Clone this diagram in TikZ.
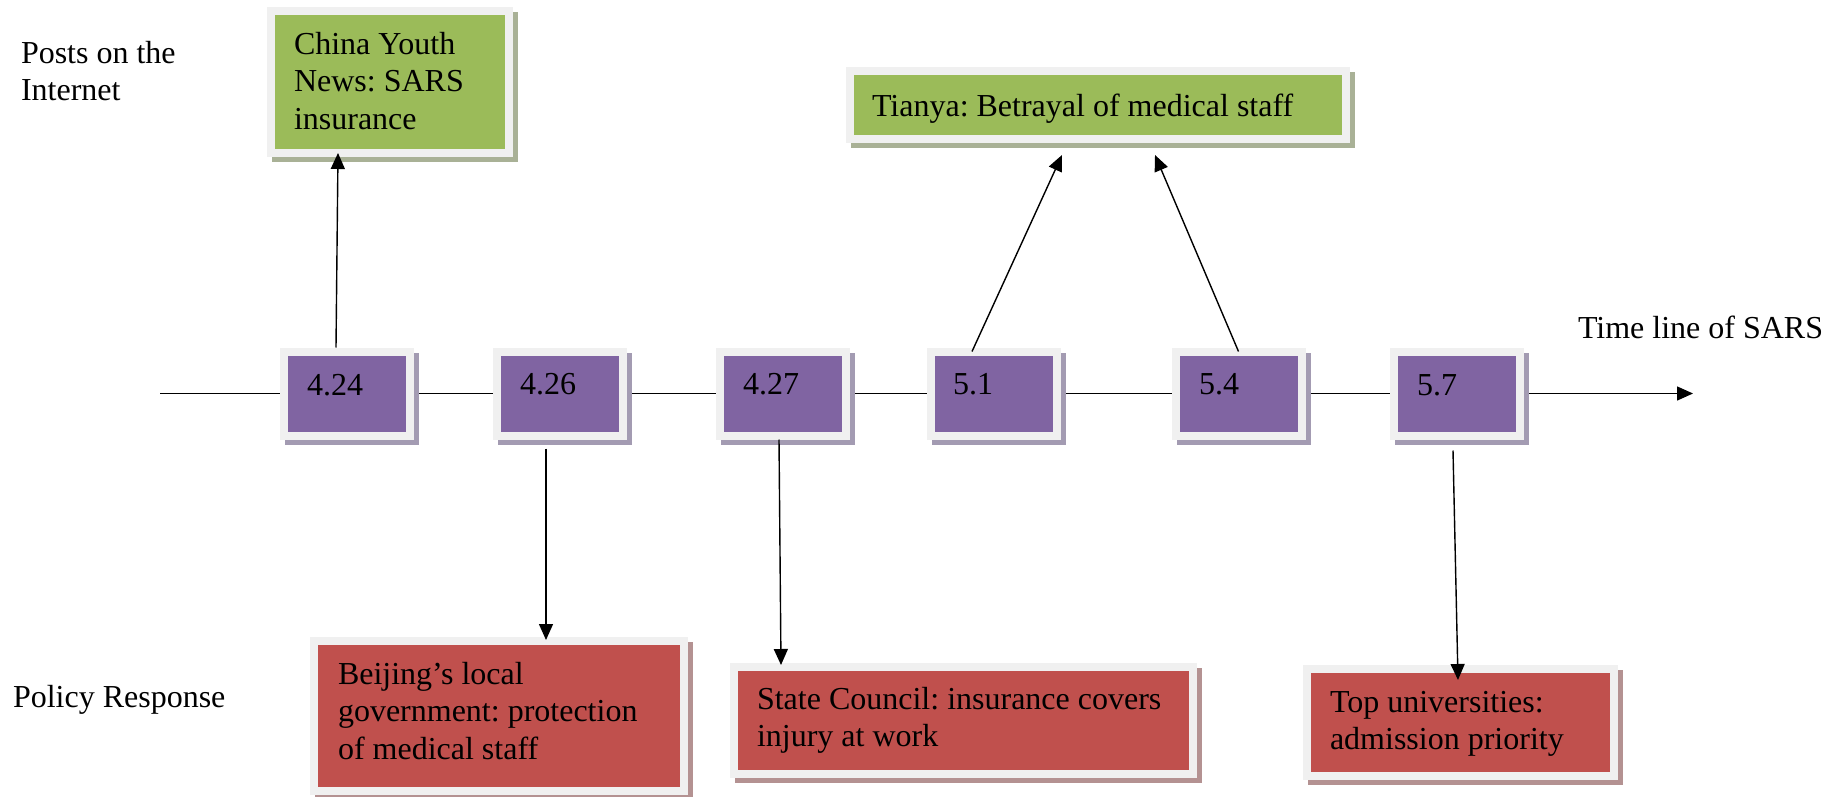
\documentclass[tikz,border=0pt]{standalone}
\usepackage{fontspec}
\setmainfont{Liberation Serif}
\usetikzlibrary{arrows.meta,backgrounds}
\definecolor{pfill}{HTML}{8064A2}
\definecolor{gfill}{HTML}{9BBB59}
\definecolor{rfill}{HTML}{C0504D}
\definecolor{bgray}{HTML}{F0F0F0}
\definecolor{pshadow}{HTML}{A39BB2}
\definecolor{gshadow}{HTML}{A9B196}
\definecolor{rshadow}{HTML}{B49292}
\tikzset{
  box/.style={draw=bgray, line width=8pt, outer sep=4pt, inner sep=0pt},
  pbox/.style={box, fill=pfill, minimum width=126pt, minimum height=84pt},
  gbox/.style={box, fill=gfill},
  rbox/.style={box, fill=rfill},
  txt/.style={font=\fontsize{32}{37.5}\selectfont\frenchspacing, inner sep=0pt, outer sep=0pt,
    anchor=north west, align=left, execute at begin node=\strut},
  arr/.style={line width=1.4pt, -{Triangle[length=16pt,width=14pt]}},
}
\newcommand{\boxshadow}[2]{\fill[#2] ([shift={(5pt,-5pt)}]#1.south west) rectangle ([shift={(5pt,-5pt)}]#1.north east);}
\begin{document}
\begin{tikzpicture}[x=1pt,y=-1pt]
\useasboundingbox (0,0) rectangle (1833,797);
% boxes
\node[gbox, minimum width=238pt, minimum height=142pt] (g1) at (390,82) {};
\node[gbox, minimum width=496pt, minimum height=68pt] (g2) at (1098,105) {};
\node[pbox] (p424) at (347,393.5) {};
\node[pbox] (p426) at (560,393.5) {};
\node[pbox] (p427) at (782.5,393.5) {};
\node[pbox] (p51) at (993.5,393.5) {};
\node[pbox] (p54) at (1238.5,393.5) {};
\node[pbox] (p57) at (1456.5,393.5) {};
\node[rbox, minimum width=370pt, minimum height=150pt] (r1) at (499,716) {};
\node[rbox, minimum width=459pt, minimum height=107pt] (r2) at (963.5,720.5) {};
\node[rbox, minimum width=307pt, minimum height=107pt] (r3) at (1460.5,722.5) {};
\coordinate (tstart) at (160,393.5);
\coordinate (tend) at (1693,393.5);
\begin{scope}[on background layer]
  \draw[arr] (tstart) -- (p424) -- (p426) -- (p427) -- (p51) -- (p54) -- (p57) -- (tend);
  \boxshadow{g1}{gshadow}
  \boxshadow{g2}{gshadow}
  \foreach \n in {p424,p426,p427,p51,p54,p57} {\boxshadow{\n}{pshadow}}
  \boxshadow{r1}{rshadow}
  \boxshadow{r2}{rshadow}
  \boxshadow{r3}{rshadow}
\end{scope}
% texts
\node[txt] (lposts) at (21,41) {Posts on the\\Internet};
\node[txt] (lpolicy) at (13,681) {Policy Response};
\node[txt] (ltime) at (1578,312) {Time line of SARS};
\node[txt] (tg1) at (294,32) {China Youth\\News: SARS\\insurance};
\node[txt] (tg2) at (872,90) {Tianya: Betrayal of medical staff};
\node[txt] (t424) at (307,369.5) {4.24};
\node[txt] (t426) at (520,368.5) {4.26};
\node[txt] (t427) at (743,368.5) {4.27};
\node[txt] (t51) at (953,368.5) {5.1};
\node[txt] (t54) at (1199,368.5) {5.4};
\node[txt] (t57) at (1417,369.5) {5.7};
\node[txt] (tr1) at (338,662) {Beijing’s local\\government: protection\\of medical staff};
\node[txt] (tr2) at (757,687) {State Council: insurance covers\\injury at work};
\node[txt] (tr3) at (1330,691) {Top universities:\\admission priority};
% connectors
\draw[arr] ([xshift=-11pt]p424.north) -- ([xshift=-52pt,yshift=4pt]g1.south);
\draw[arr] ([xshift=-14pt,yshift=-9pt]p426.south) -- ([xshift=47pt,yshift=-3pt]r1.north);
\draw[arr] ([xshift=-3.5pt]p427.south) -- ([xshift=-182.5pt,yshift=-2pt]r2.north);
\draw[arr] ([xshift=-21.5pt,yshift=-4pt]p51.north) -- ([xshift=-36pt,yshift=-12pt]g2.south);
\draw[arr] ([yshift=-4pt]p54.north) -- ([xshift=57pt,yshift=-12pt]g2.south);
\draw[arr] ([xshift=-3.5pt,yshift=-11pt]p57.south) -- ([xshift=-2.5pt,yshift=-15pt]r3.north);
\end{tikzpicture}
\end{document}
